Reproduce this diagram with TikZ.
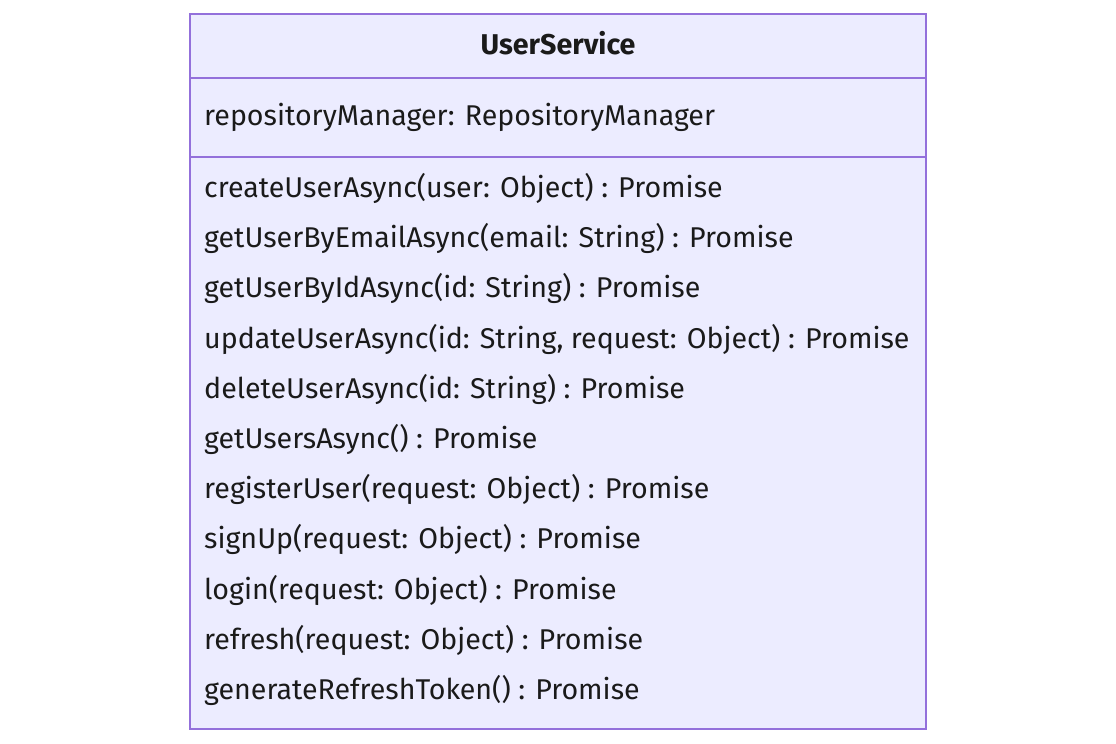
\documentclass[tikz,border=0pt]{standalone}
\usepackage{fontspec}
\setmainfont{Fira Sans}
\definecolor{boxfill}{HTML}{ECECFF}
\definecolor{boxline}{HTML}{9370DB}
\definecolor{txt}{HTML}{1A1A1A}
\begin{document}
\begin{tikzpicture}[x=1pt,y=-1pt,
  member/.style={anchor=mid west,inner sep=0pt,text=txt,font=\fontsize{28.6}{32}\selectfont,yshift=-7pt},
  title/.style={anchor=mid,inner sep=0pt,text=txt,font=\fontsize{28.6}{32}\selectfont\bfseries,yshift=-7pt},
  frame/.style={draw=boxline,line width=1.5pt}]
\useasboundingbox (0,0) rectangle (1116,744);
\fill[boxfill] (190,14) rectangle (926,729);
\draw[frame] (190,14) rectangle (926,729);
\draw[frame] (190,78) -- (926,78);
\draw[frame] (190,157) -- (926,157);
\node[title] (t) at (558,45) {UserService};
\node[member] (a1) at (204,116) {repositoryManager: RepositoryManager};
\node[member] (m1) at (204,188) {createUserAsync(user: Object) : Promise};
\node[member] (m2) at (204,238) {getUserByEmailAsync(email: String) : Promise};
\node[member] (m3) at (204,288) {getUserByIdAsync(id: String) : Promise};
\node[member] (m4) at (204,339) {updateUserAsync(id: String, request: Object) : Promise};
\node[member] (m5) at (204,389) {deleteUserAsync(id: String) : Promise};
\node[member] (m6) at (204,439) {getUsersAsync() : Promise};
\node[member] (m7) at (204,489) {registerUser(request: Object) : Promise};
\node[member] (m8) at (204,539) {signUp(request: Object) : Promise};
\node[member] (m9) at (204,590) {login(request: Object) : Promise};
\node[member] (m10) at (204,640) {refresh(request: Object) : Promise};
\node[member] (m11) at (204,690) {generateRefreshToken() : Promise};
\end{tikzpicture}
\end{document}
